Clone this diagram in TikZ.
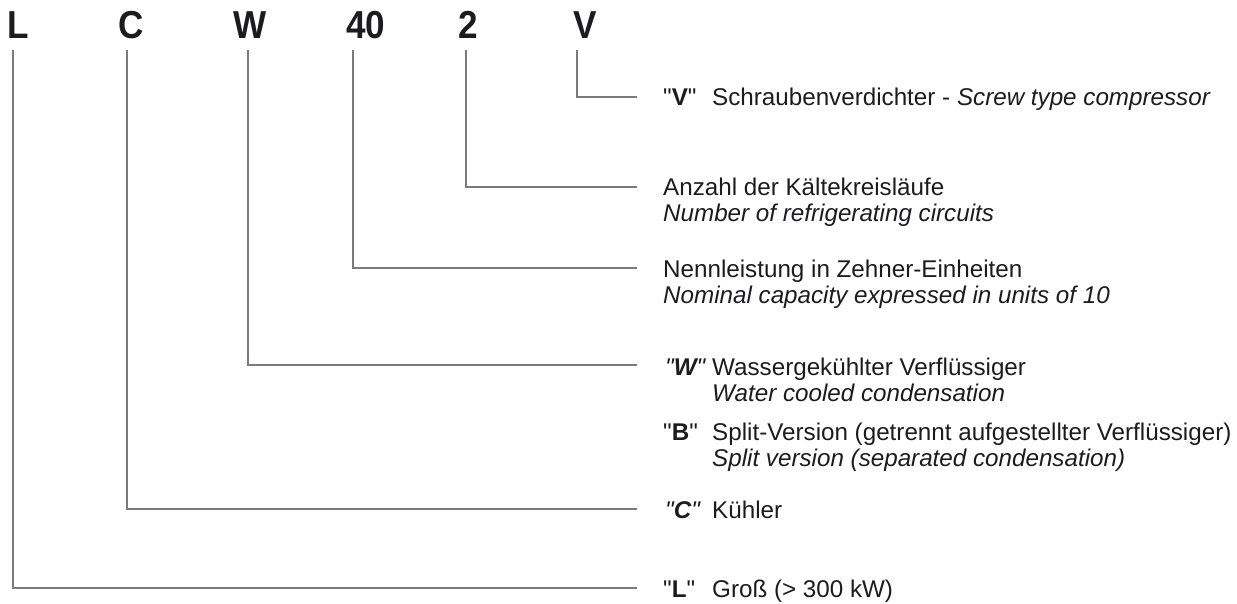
\documentclass[tikz,border=0pt]{standalone}
\usepackage{fontspec}
\setmainfont{Liberation Sans}[Ligatures=TeXOff]
\usepackage{graphicx}
\definecolor{leadgray}{RGB}{122,122,128}
\definecolor{ink}{RGB}{28,28,30}
\newcommand{\narrow}[1]{\scalebox{0.9}[1]{#1}}
\begin{document}
\begin{tikzpicture}[x=1pt,y=-1pt,
  lead/.style={draw=leadgray, line width=2.4pt, line cap=butt, line join=miter},
  typeletter/.style={font=\fontsize{39}{39}\selectfont\bfseries, text=ink, anchor=base, inner sep=0pt},
  codetxt/.style={font=\fontsize{24.2}{27}\selectfont, text=ink, anchor=base west, inner sep=0pt},
  desctxt/.style={font=\fontsize{24.2}{27}\selectfont, text=ink, anchor=base west, inner sep=0pt},
  transl/.style={desctxt, font=\fontsize{24.2}{27}\selectfont\itshape},
]
\useasboundingbox (0,0) rectangle (1237,603);

% type code letters
\node[typeletter] (lL)  at (18,38)  {\narrow{L}};
\node[typeletter] (lC)  at (131,38) {\narrow{C}};
\node[typeletter] (lW)  at (250,38) {\narrow{W}};
\node[typeletter] (l40) at (366,38) {\narrow{40}};
\node[typeletter] (l2)  at (468,38) {\narrow{2}};
\node[typeletter] (lV)  at (585,38) {\narrow{V}};

% leader start and end points
\coordinate (sL)  at (13,50);   \coordinate (eL)  at (637,588);
\coordinate (sC)  at (127,50);  \coordinate (eC)  at (637,509);
\coordinate (sW)  at (248,50);  \coordinate (eW)  at (637,365);
\coordinate (s40) at (353,50);  \coordinate (e40) at (637,268);
\coordinate (s2)  at (466,50);  \coordinate (e2)  at (637,187);
\coordinate (sV)  at (577,50);  \coordinate (eV)  at (637,97);

\draw[lead] (sV)  |- (eV);
\draw[lead] (s2)  |- (e2);
\draw[lead] (s40) |- (e40);
\draw[lead] (sW)  |- (eW);
\draw[lead] (sC)  |- (eC);
\draw[lead] (sL)  |- (eL);

% V
\node[codetxt] (cV) at (663,105) {"\textbf{V}"};
\node[desctxt] (dV) at (712,105) {Schraubenverdichter - \textit{Screw type compressor}};
% 2
\node[desctxt] (d2)  at (663,195) {Anzahl der Kältekreisläufe};
\node[transl]  (t2)  at (663,221) {Number of refrigerating circuits};
% 40
\node[desctxt] (d40) at (663,277) {Nennleistung in Zehner-Einheiten};
\node[transl]  (t40) at (663,303) {Nominal capacity expressed in units of 10};
% W
\node[codetxt] (cW) at (665,375) {\textit{"\textbf{W}"}};
\node[desctxt] (dW) at (712,375) {Wassergekühlter Verflüssiger};
\node[transl]  (tW) at (712,401) {Water cooled condensation};
% B
\node[codetxt] (cB) at (663,440) {"\textbf{B}"};
\node[desctxt] (dB) at (712,440) {Split-Version (getrennt aufgestellter Verflüssiger)};
\node[transl]  (tB) at (712,466) {Split version (separated condensation)};
% C
\node[codetxt] (cC) at (665,518) {\textit{"\textbf{C}"}};
\node[desctxt] (dC) at (712,518) {Kühler};
% L
\node[codetxt] (cL) at (663,597) {"\textbf{L}"};
\node[desctxt] (dL) at (712,597) {Groß (> 300 kW)};
\end{tikzpicture}
\end{document}
